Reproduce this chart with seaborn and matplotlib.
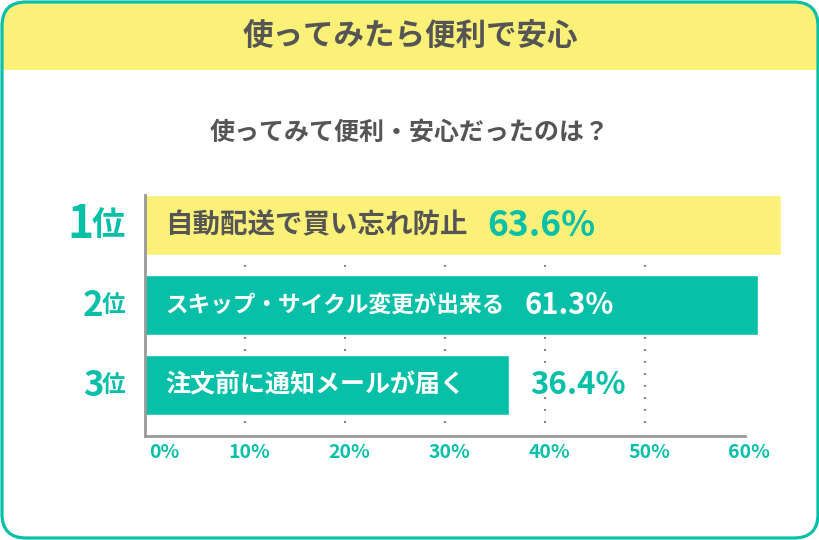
import matplotlib
matplotlib.use('Agg')
import matplotlib.pyplot as plt
import seaborn as sns
import pandas as pd
from matplotlib.patches import FancyBboxPatch, Rectangle
from matplotlib.transforms import blended_transform_factory, ScaledTranslation

# データ
title = '使ってみたら便利で安心'
subtitle = '使ってみて便利・安心だったのは？'
ranks = ['1', '2', '3']
items = ['自動配送で買い忘れ防止', 'スキップ・サイクル変更が出来る', '注文前に通知メールが届く']
values = [63.6, 61.3, 36.4]
ticks = [0, 10, 20, 30, 40, 50, 60]
tick_labels = ['0%', '10%', '20%', '30%', '40%', '50%', '60%']

YELLOW = '#FBF178'
TEAL = '#08BFA8'
GRAY = '#555555'

sns.set_theme(style='white')
plt.rcParams['font.family'] = ['Noto Sans CJK JP', 'DejaVu Sans']
plt.rcParams['font.weight'] = 'bold'

fig = plt.figure(figsize=(8.2, 5.4), dpi=100)
fig.patch.set_facecolor('white')

# 背景（ピクセル座標）
bg = fig.add_axes([0, 0, 1, 1])
bg.set_xlim(0, 820)
bg.set_ylim(540, 0)
bg.axis('off')

box = 'round,pad=0,rounding_size=24'
header = FancyBboxPatch((2, 2), 816, 536, boxstyle=box, fc=YELLOW, ec='none')
bg.add_patch(header)
header.set_clip_path(Rectangle((0, 0), 820, 70, transform=bg.transData))
bg.add_patch(FancyBboxPatch((2, 2), 816, 536, boxstyle=box, fc='none', ec=TEAL, lw=2.3))

bg.text(410, 36, title, ha='center', va='center', fontsize=22, color=GRAY)
bg.text(410, 133, subtitle, ha='center', va='center', fontsize=18, color=GRAY)

# 棒グラフ
ax = fig.add_axes([145 / 820, 104 / 540, 655 / 820, 241 / 540])
ax.patch.set_alpha(0)
df = pd.DataFrame({'item': items, 'value': values})
sns.barplot(data=df, x='value', y='item', hue='item', palette=[YELLOW, TEAL, TEAL],
            legend=False, width=0.75, saturation=1, errorbar=None, ax=ax, zorder=2)
ax.set_xlim(0, 65.5)
ax.set_ylim(2.6375, -0.375)
ax.vlines(ticks[1:-1], 2.47, -0.375, colors='#8a8a8a', linestyles=(0, (1, 4.76)),
          linewidth=1.5, zorder=1)
ax.set_yticks([])
ax.set_xlabel('')
ax.set_ylabel('')
for s in ['top', 'right']:
    ax.spines[s].set_visible(False)
for s in ['left', 'bottom']:
    ax.spines[s].set_color('#999999')
    ax.spines[s].set_linewidth(2)
    ax.spines[s].set_zorder(3)
ax.spines['bottom'].set_bounds(0, 60)

ax.set_xticks(ticks, tick_labels)
ax.tick_params(axis='x', length=0, pad=5, labelsize=14, labelcolor=TEAL)
shift = ScaledTranslation(4 / 100, 0, fig.dpi_scale_trans)
for lab in ax.get_xticklabels():
    lab.set_transform(lab.get_transform() + shift)
ax.get_xticklabels()[0].set_ha('left')

label_sizes = [19.8, 16.3, 18]
value_sizes = [25.5, 21, 22.5]
digit_sizes = [32, 25, 25]
kanji_sizes = [24, 17, 17]

fig.canvas.draw()
r = fig.canvas.get_renderer()
inv = ax.transData.inverted()
rank_tf = blended_transform_factory(bg.transData, ax.transData)

for i, (item, v) in enumerate(zip(items, values)):
    on_yellow = i == 0
    t = ax.text(2.0, i, item, ha='left', va='center', fontsize=label_sizes[i],
                color=GRAY if on_yellow else 'white', zorder=4)
    end = inv.transform((t.get_window_extent(r).x1, 0))[0]
    vt = ax.text(end + 2.0, i, f'{v}%', ha='left', va='center', fontsize=value_sizes[i],
                 color=TEAL if on_yellow else 'white', zorder=4)
    bb = vt.get_window_extent(r)
    if inv.transform((bb.x1, 0))[0] > v:
        vt.set_x(v + 2.1)
        vt.set_color(TEAL)

    ax.text(125, i, '位', ha='right', va='center', fontsize=kanji_sizes[i],
            color=TEAL, transform=rank_tf)
    ax.text(125 - kanji_sizes[i] * 100 / 72 + 2, i, ranks[i], ha='right', va='center',
            fontsize=digit_sizes[i], color=TEAL, transform=rank_tf)

fig.savefig('out.png', dpi=100)
